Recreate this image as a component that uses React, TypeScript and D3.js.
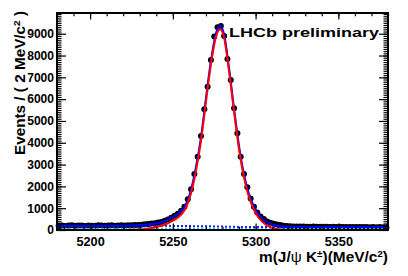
import React, { useEffect, useRef } from "react";
import * as d3 from "d3";

// histogram: 100 bins of 2 MeV from 5180
const binLow = 5180;
const binWidth = 2;
const counts = [
  198, 210, 189, 204, 215, 193, 201, 208, 187, 212,
  200, 194, 217, 204, 196, 211, 220, 199, 207, 214,
  210, 222, 218, 225, 232, 245, 258, 275, 295, 315,
  340, 372, 420, 480, 560, 650, 750, 880, 1070, 1410,
  1870, 2570, 3360, 4310, 5540, 6570, 7800, 8870, 9300, 9350,
  8900, 7840, 6880, 5580, 4440, 3360, 2570, 1960, 1450, 1070,
  800, 620, 500, 390, 330, 290, 255, 228, 200, 180,
  170, 165, 162, 158, 160, 154, 151, 156, 148, 150,
  146, 149, 143, 145, 140, 144, 138, 141, 136, 139,
  135, 137, 132, 136, 131, 133, 129, 132, 128, 130,
];

// fit curves
const fitMass = [
  5180, 5200, 5220, 5230, 5236, 5240, 5245, 5250, 5255, 5258, 5261, 5264, 5267,
  5270, 5273, 5276, 5278.5, 5281, 5284, 5287, 5290, 5293, 5296, 5299, 5302,
  5306, 5310, 5315, 5320, 5330, 5340, 5360, 5380,
];
const fitTotal = [
  195, 195, 200, 225, 265, 310, 400, 600, 860, 1200, 1850, 2900, 4250,
  6050, 7750, 9000, 9350, 8950, 7400, 5550, 3850, 2550, 1650, 1080, 700,
  400, 250, 175, 150, 145, 140, 135, 130,
];
const fitSignal = [
  0, 0, 0, 20, 80, 140, 240, 430, 700, 1040, 1680, 2730, 4080,
  5880, 7590, 8840, 9200, 8800, 7250, 5400, 3700, 2400, 1500, 930, 550,
  250, 100, 25, 0, 0, 0, 0, 0,
];
const bkgMass = [5180, 5240, 5270, 5300, 5340, 5380];
const bkgTotal = [195, 192, 170, 135, 132, 128];
const bkgComb = [55, 54, 52, 50, 47, 45];

const yTicks = [0, 1000, 2000, 3000, 4000, 5000, 6000, 7000, 8000, 9000];
const xTicks = [5200, 5250, 5300, 5350];

const W = 408;
const H = 276;
const font = "'Liberation Sans', Arial, Helvetica, sans-serif";

const App = () => {
  const ref = useRef<SVGSVGElement>(null);

  useEffect(() => {
    const svg = d3.select(ref.current);
    svg.selectAll("*").remove();

    const x = d3.scaleLinear().domain([5180, 5380]).range([57, 388]);
    const y = d3.scaleLinear().domain([0, 9950]).range([230, 13]);
    const fmt = d3.format("d");

    svg.append("rect").attr("width", W).attr("height", H).attr("fill", "#fff");

    // data points
    svg.append("g")
      .selectAll("circle")
      .data(counts)
      .join("circle")
      .attr("cx", (d, i) => x(binLow + binWidth * (i + 0.5)))
      .attr("cy", (d) => y(d))
      .attr("r", 3)
      .attr("fill", "#000");

    const line = d3
      .line<[number, number]>()
      .x((d) => x(d[0]))
      .y((d) => y(d[1]))
      .curve(d3.curveMonotoneX);

    const drawCurve = (ms: number[], vs: number[], color: string, dash: string | null) => {
      const p = svg.append("path")
        .attr("d", line(ms.map((m, i) => [m, vs[i]] as [number, number])))
        .attr("fill", "none")
        .attr("stroke", color)
        .attr("stroke-width", 2);
      if (dash) p.attr("stroke-dasharray", dash);
    };

    drawCurve(bkgMass, bkgTotal, "#1a1aff", "2,2");
    drawCurve(bkgMass, bkgComb, "#00d8ff", "2,2");
    drawCurve(fitMass, fitTotal, "#0000ff", null);
    drawCurve(fitMass, fitSignal, "#ff0000", null);

    // axes (ROOT style: ticks inside the frame)
    const styleAxis = (g: any) => {
      g.select(".domain").remove();
      g.selectAll("line").attr("stroke", "#000").attr("stroke-width", 1.2);
    };
    const minorY = d3.range(100, 9950, 100);
    const minorX = d3.range(5180, 5381, 10);

    const left = svg.append("g").attr("transform", "translate(57,0)")
      .call(d3.axisLeft(y).tickValues(yTicks).tickFormat(fmt).tickSizeInner(-9).tickSizeOuter(0).tickPadding(3));
    styleAxis(left);
    left.selectAll("text")
      .style("font-family", font).style("font-weight", "bold").style("font-size", "12px")
      .attr("fill", "#000")
      .each(function (d: any) {
        const s = fmt(d);
        if (s.length > 1) d3.select(this).attr("textLength", s.length * 6.7).attr("lengthAdjust", "spacingAndGlyphs");
      });
    styleAxis(svg.append("g").attr("transform", "translate(57,0)")
      .call(d3.axisLeft(y).tickValues(minorY).tickSize(-4.5).tickFormat(() => "")));

    styleAxis(svg.append("g").attr("transform", "translate(388,0)")
      .call(d3.axisRight(y).tickValues(yTicks).tickSize(-9).tickFormat(() => "")));
    styleAxis(svg.append("g").attr("transform", "translate(388,0)")
      .call(d3.axisRight(y).tickValues(minorY).tickSize(-4.5).tickFormat(() => "")));

    const bottom = svg.append("g").attr("transform", "translate(0,230)")
      .call(d3.axisBottom(x).tickValues(xTicks).tickFormat(fmt).tickSizeInner(-6.5).tickSizeOuter(0).tickPadding(7));
    styleAxis(bottom);
    bottom.selectAll("text")
      .style("font-family", font).style("font-weight", "bold").style("font-size", "13px")
      .attr("fill", "#000")
      .attr("textLength", 28.3).attr("lengthAdjust", "spacingAndGlyphs");
    styleAxis(svg.append("g").attr("transform", "translate(0,230)")
      .call(d3.axisBottom(x).tickValues(minorX).tickSize(-3.3).tickFormat(() => "")));

    styleAxis(svg.append("g").attr("transform", "translate(0,13)")
      .call(d3.axisTop(x).tickValues(xTicks).tickSize(-6.5).tickFormat(() => "")));
    styleAxis(svg.append("g").attr("transform", "translate(0,13)")
      .call(d3.axisTop(x).tickValues(minorX).tickSize(-3.3).tickFormat(() => "")));

    // frame
    svg.append("rect")
      .attr("x", 57).attr("y", 13).attr("width", 331).attr("height", 217)
      .attr("fill", "none").attr("stroke", "#000").attr("stroke-width", 2);

    // LHCb label
    svg.append("text")
      .attr("x", 229).attr("y", 36.5)
      .attr("textLength", 150).attr("lengthAdjust", "spacingAndGlyphs")
      .style("font-family", font).style("font-weight", "bold").style("font-size", "13.5px")
      .text("LHCb preliminary");

    // x title
    const xt = svg.append("text")
      .attr("x", 388).attr("y", 262)
      .attr("text-anchor", "end")
      .attr("textLength", 129).attr("lengthAdjust", "spacingAndGlyphs")
      .style("font-family", font).style("font-weight", "bold").style("font-size", "14px");
    xt.append("tspan").text("m(J/");
    xt.append("tspan").style("font-weight", "normal").text("\u03c8");
    xt.append("tspan").text(" K");
    xt.append("tspan").attr("dy", -5).style("font-size", "9px").text("\u00b1");
    xt.append("tspan").attr("dy", 5).text(")(MeV/c");
    xt.append("tspan").attr("dy", -5).style("font-size", "9px").text("2");
    xt.append("tspan").attr("dy", 5).text(")");

    // y title
    const yt = svg.append("text")
      .attr("transform", "translate(25,11) rotate(-90)")
      .attr("text-anchor", "end")
      .attr("textLength", 144).attr("lengthAdjust", "spacingAndGlyphs")
      .style("font-family", font).style("font-weight", "bold").style("font-size", "14.5px");
    yt.append("tspan").text("Events / ( 2 MeV/c");
    yt.append("tspan").attr("dy", -5).style("font-size", "9.5px").text("2");
    yt.append("tspan").attr("dy", 5).text(" )");
  }, []);

  return (
    <svg
      ref={ref}
      width={W}
      height={H}
      style={{ position: "absolute", left: 0, top: 0, display: "block" }}
    ></svg>
  );
};

export default App;
